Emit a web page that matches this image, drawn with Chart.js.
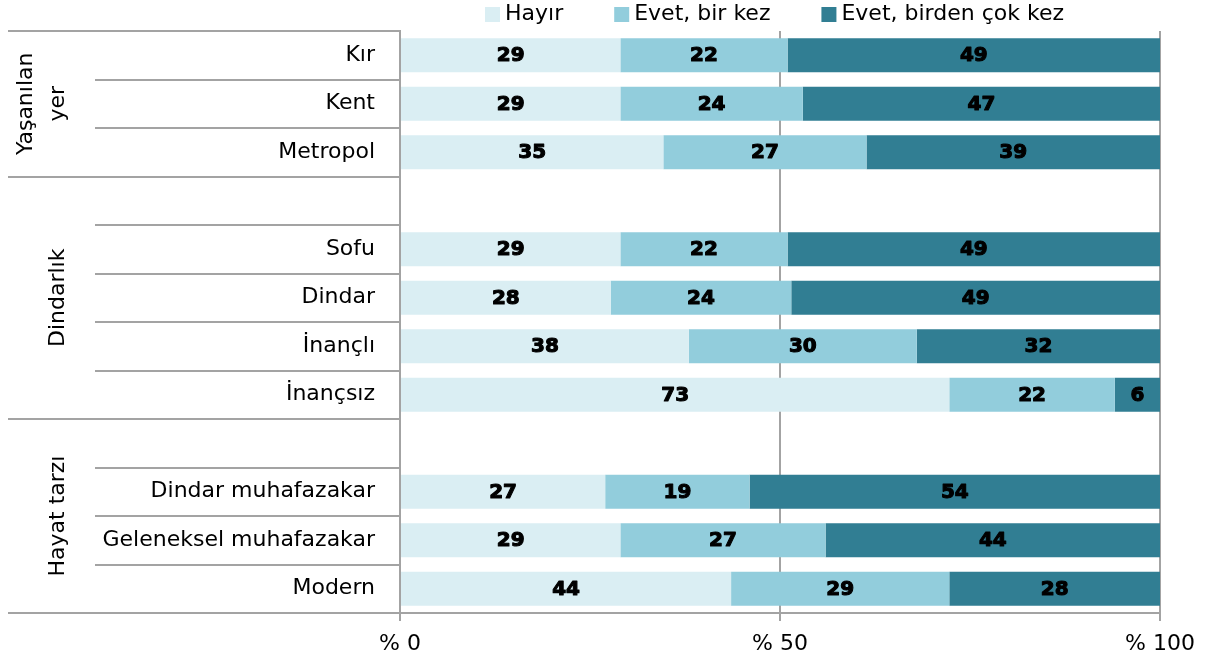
<!DOCTYPE html>
<html lang="tr">
<head>
<meta charset="utf-8">
<title>Kürtaj deneyimi</title>
<script src="https://cdn.jsdelivr.net/npm/chart.js@4/dist/chart.umd.min.js"></script>
<style>
    html, body { margin: 0; padding: 0; background: #fff; }
    #wrap { width: 1225px; height: 667px; position: relative; }
</style>
</head>
<body>
<div id="wrap"><canvas id="answersChart"></canvas></div>
<script>
// Rows, top to bottom. Empty strings are spacer rows between groups.
const categories = [
    'Kır', 'Kent', 'Metropol',
    '', 'Sofu', 'Dindar', 'İnançlı', 'İnançsız',
    '', 'Dindar muhafazakar', 'Geleneksel muhafazakar', 'Modern'
];

const hayir       = [29, 29, 35, null, 29, 28, 38, 73, null, 27, 29, 44];
const evetBirKez  = [22, 24, 27, null, 22, 24, 30, 22, null, 19, 27, 29];
const evetCokKez  = [49, 47, 39, null, 49, 49, 32, 6, null, 54, 44, 28];

const seriesNames = ['Hayır', 'Evet, bir kez', 'Evet, birden çok kez'];
const seriesColors = ['#DAEEF3', '#92CDDC', '#317E93'];

// Row groups: first row index, row count (spacer included), label lines
const groupStarts = [0, 3, 8];
const groupSizes = [3, 5, 4];
const groupNames = [['Yaşanılan', 'yer'], ['Dindarlık'], ['Hayat tarzı']];

const xTicks = [0, 50, 100];

const FONT = '"DejaVu Sans", sans-serif';
Chart.defaults.font.family = FONT;
Chart.defaults.color = '#000';

// Each row is shown as a 100% bar, so scale the rounded values by their row total
const rowTotals = categories.map((c, i) => (hayir[i] || 0) + (evetBirKez[i] || 0) + (evetCokKez[i] || 0));
function share(values) {
    return values.map((v, i) => v == null ? null : v / rowTotals[i] * 100);
}
const rawValues = [hayir, evetBirKez, evetCokKez];

const gridColor = '#A3A3A3';

// Numbers in the middle of every bar segment (stroked a little to look heavier)
const segmentLabels = {
    id: 'segmentLabels',
    afterDatasetsDraw(chart) {
        const ctx = chart.ctx;
        ctx.save();
        ctx.font = 'bold 20px ' + FONT;
        ctx.fillStyle = '#000';
        ctx.strokeStyle = '#000';
        ctx.lineWidth = 1.1;
        ctx.lineJoin = 'round';
        ctx.textAlign = 'center';
        ctx.textBaseline = 'middle';
        chart.data.datasets.forEach((ds, d) => {
            chart.getDatasetMeta(d).data.forEach((bar, i) => {
                const v = rawValues[d][i];
                if (v == null) return;
                const { x, y, base } = bar.getProps(['x', 'y', 'base'], true);
                const cx = (x + base) / 2;
                ctx.strokeText(String(v), cx, y + 1);
                ctx.fillText(String(v), cx, y + 1);
            });
        });
        ctx.restore();
    }
};

// Long separators and rotated group names at the left
const rowGroups = {
    id: 'rowGroups',
    afterDraw(chart) {
        const ctx = chart.ctx;
        const area = chart.chartArea;
        const rowH = (area.bottom - area.top) / categories.length;
        ctx.save();
        ctx.strokeStyle = gridColor;
        ctx.lineWidth = 2;
        const bounds = groupStarts.concat([categories.length]);
        bounds.forEach(idx => {
            const y = Math.round(area.top + idx * rowH);
            ctx.beginPath();
            ctx.moveTo(8, y);
            ctx.lineTo(area.left, y);
            ctx.stroke();
        });
        ctx.fillStyle = '#000';
        ctx.font = '22px ' + FONT;
        ctx.textAlign = 'center';
        ctx.textBaseline = 'alphabetic';
        groupNames.forEach((lines, g) => {
            const cy = area.top + (groupStarts[g] + groupSizes[g] / 2) * rowH;
            lines.forEach((line, k) => {
                const bx = 64 - (lines.length - 1 - k) * 32;
                ctx.save();
                ctx.translate(bx, cy);
                ctx.rotate(-Math.PI / 2);
                ctx.fillText(line, 0, 0);
                ctx.restore();
            });
        });
        ctx.restore();
    }
};

// Legend row above the plot
const topLegend = {
    id: 'topLegend',
    afterDraw(chart) {
        const ctx = chart.ctx;
        const area = chart.chartArea;
        ctx.save();
        ctx.font = '22px ' + FONT;
        ctx.textBaseline = 'middle';
        ctx.textAlign = 'left';
        const box = 15, gap = 5, spacing = 51;
        const items = chart.data.datasets.map(ds => ({
            text: ds.label,
            color: ds.backgroundColor,
            w: ctx.measureText(ds.label).width
        }));
        const total = items.reduce((s, it) => s + box + gap + it.w, 0) + spacing * (items.length - 1);
        let x = Math.round((area.left + area.right) / 2 - 6 - total / 2);
        const cy = 14.5;
        items.forEach(it => {
            ctx.fillStyle = it.color;
            ctx.fillRect(x, cy - box / 2, box, box);
            ctx.fillStyle = '#000';
            ctx.fillText(it.text, x + box + gap, cy);
            x += box + gap + it.w + spacing;
        });
        ctx.restore();
    }
};

const datasets = [hayir, evetBirKez, evetCokKez].map((vals, i) => ({
    label: seriesNames[i],
    data: share(vals),
    backgroundColor: seriesColors[i],
    borderWidth: 0,
    categoryPercentage: 1,
    barPercentage: 0.7
}));

new Chart(document.getElementById('answersChart'), {
    type: 'bar',
    data: { labels: categories, datasets },
    options: {
        indexAxis: 'y',
        responsive: true,
        maintainAspectRatio: false,
        animation: false,
        layout: { padding: { top: 31, right: 65, left: 0, bottom: 0 } },
        plugins: {
            legend: { display: false },
            tooltip: { enabled: false }
        },
        scales: {
            x: {
                stacked: true,
                min: 0,
                max: 100,
                afterBuildTicks(scale) {
                    scale.ticks = xTicks.map(v => ({ value: v }));
                },
                ticks: {
                    callback: v => '% ' + v,
                    font: { size: 22 },
                    color: '#000',
                    padding: 10
                },
                grid: { color: gridColor, lineWidth: 2, tickLength: 8 },
                border: { color: gridColor, width: 2 },
                afterFit(scale) { scale.height = 54; }
            },
            y: {
                stacked: true,
                offset: true,
                ticks: {
                    font: { size: 22 },
                    color: '#000',
                    padding: -280,
                    autoSkip: false
                },
                grid: {
                    offset: true,
                    drawOnChartArea: false,
                    tickLength: 305,
                    color: gridColor,
                    lineWidth: 2
                },
                border: { color: gridColor, width: 2 },
                afterFit(scale) { scale.width = 400; }
            }
        }
    },
    plugins: [segmentLabels, rowGroups, topLegend]
});
</script>
</body>
</html>
